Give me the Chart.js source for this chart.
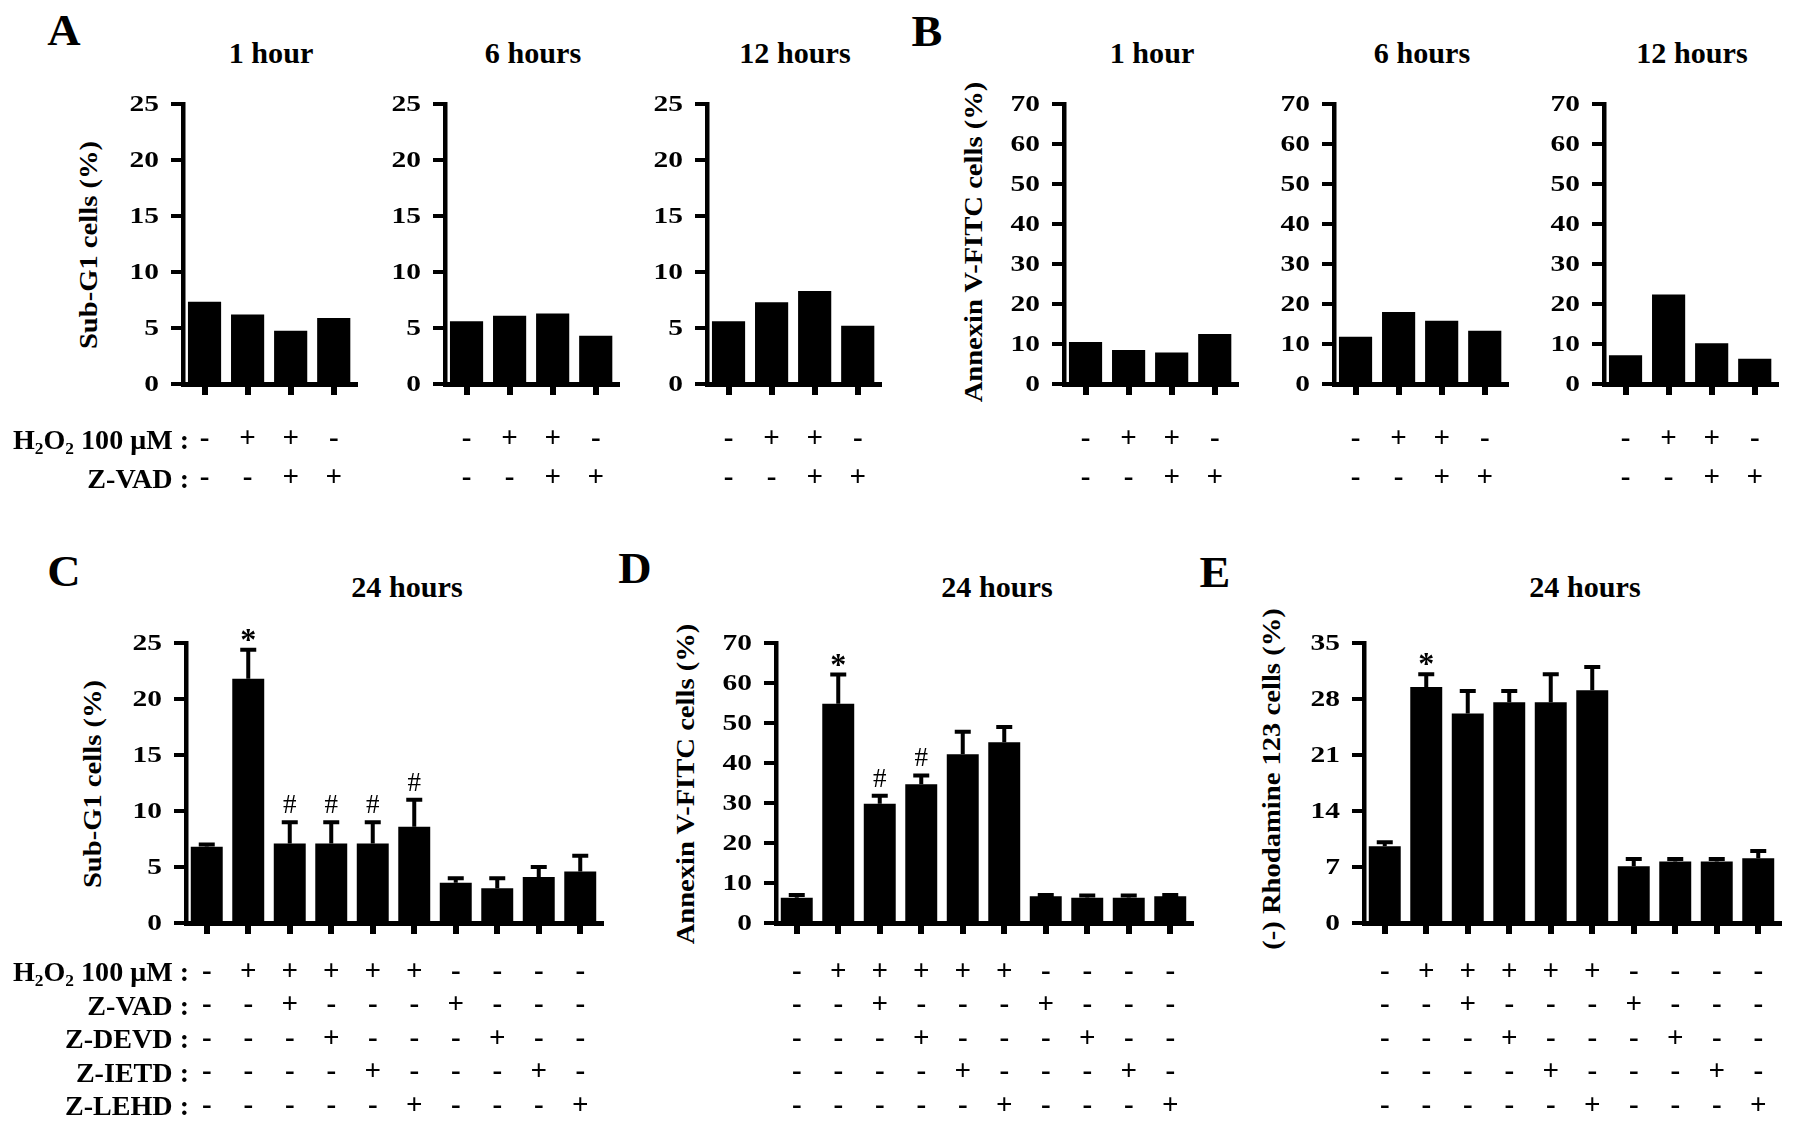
<!DOCTYPE html>
<html>
<head>
<meta charset="utf-8">
<script src="https://cdn.jsdelivr.net/npm/chart.js@4.4.1/dist/chart.umd.min.js"></script>
<style>
  body { margin: 0; width: 1795px; height: 1126px; position: relative; overflow: hidden; background: #fff; }
  canvas { position: absolute; }
  .t { position: absolute; white-space: nowrap; line-height: 1; font-family: "Liberation Serif", "Times New Roman", serif; font-weight: bold; color: #000; }
  .t .s { font-size: 0.62em; position: relative; top: 0.3em; }
</style>
</head>
<body>
<script>
// time points
const hoursEarly = ['1 hour', '6 hours', '12 hours'];
const hoursLate = '24 hours';

// A - Sub-G1 cells (%), single values
const subG1_1h  = [7.35, 6.2, 4.75, 5.9];
const subG1_6h  = [5.6, 6.1, 6.3, 4.3];
const subG1_12h = [5.6, 7.3, 8.3, 5.2];

// B - Annexin V-FITC cells (%)
const annexin_1h  = [10.5, 8.5, 7.9, 12.5];
const annexin_6h  = [11.8, 18.0, 15.8, 13.3];
const annexin_12h = [7.2, 22.4, 10.2, 6.3];

// treatments under A and B
const h2o2Early = ['-', '+', '+', '-'];
const zvadEarly = ['-', '-', '+', '+'];

// C, D, E - 24 hours, mean and SD
const subG1_24h     = [6.8, 21.8, 7.1, 7.1, 7.1, 8.6, 3.6, 3.1, 4.1, 4.6];
const subG1_24hSD   = [0.2, 2.6, 1.9, 1.9, 1.9, 2.4, 0.4, 0.9, 0.9, 1.4];
const annexin_24h   = [6.3, 54.8, 29.8, 34.7, 42.2, 45.2, 6.7, 6.3, 6.3, 6.7];
const annexin_24hSD = [0.7, 7.3, 2.0, 2.2, 5.6, 3.8, 0.3, 0.6, 0.6, 0.3];
const rhod_24h      = [9.6, 29.5, 26.2, 27.6, 27.6, 29.1, 7.1, 7.7, 7.7, 8.1];
const rhod_24hSD    = [0.5, 1.6, 2.8, 1.4, 3.5, 2.9, 0.9, 0.3, 0.3, 0.9];

// significance marks
const marksC = ['', '*', '#', '#', '#', '#', '', '', '', ''];
const marksD = ['', '*', '#', '#', '', '', '', '', '', ''];
const marksE = ['', '*', '', '', '', '', '', '', '', ''];

// treatments under C, D, E
const h2o2Late  = ['-', '+', '+', '+', '+', '+', '-', '-', '-', '-'];
const zvadLate  = ['-', '-', '+', '-', '-', '-', '+', '-', '-', '-'];
const zdevdLate = ['-', '-', '-', '+', '-', '-', '-', '+', '-', '-'];
const zietdLate = ['-', '-', '-', '-', '+', '-', '-', '-', '+', '-'];
const zlehdLate = ['-', '-', '-', '-', '-', '+', '-', '-', '-', '+'];

const rowNamesEarly = ['H<span class="s">2</span>O<span class="s">2</span> 100 μM :', 'Z-VAD :'];
const rowNamesLate = ['H<span class="s">2</span>O<span class="s">2</span> 100 μM :', 'Z-VAD :', 'Z-DEVD :', 'Z-IETD :', 'Z-LEHD :'];

// y axis ticks
const ticksSubG1 = [0, 5, 10, 15, 20, 25];
const ticksAnnexin = [0, 10, 20, 30, 40, 50, 60, 70];
const ticksRhod = [0, 7, 14, 21, 28, 35];

const SERIF = '"Liberation Serif", "Times New Roman", serif';
const Y_W = 70, PAD_T = 20, PAD_R = 12;

const colsEarly = h2o2Early.map((v, i) => [v, zvadEarly[i]]);
const colsLate = h2o2Late.map((v, i) => [v, zvadLate[i], zdevdLate[i], zietdLate[i], zlehdLate[i]]);

// error bars, * / # marks and the (wide) y tick numbers
const extras = {
  id: 'extras',
  afterDatasetsDraw(chart, args, opts) {
    const ctx = chart.ctx, ys = chart.scales.y;
    const bars = chart.getDatasetMeta(0).data;
    const vals = chart.data.datasets[0].data;
    ctx.save();
    ctx.strokeStyle = '#000';
    ctx.fillStyle = '#000';
    ctx.lineWidth = 4;
    if (opts.sd) {
      bars.forEach((b, i) => {
        const top = ys.getPixelForValue(vals[i] + opts.sd[i]);
        ctx.beginPath();
        ctx.moveTo(b.x, b.y);
        ctx.lineTo(b.x, top);
        ctx.moveTo(b.x - 8, top);
        ctx.lineTo(b.x + 8, top);
        ctx.stroke();
        const m = opts.marks && opts.marks[i];
        if (m) {
          ctx.font = m === '*' ? 'bold 32px ' + SERIF : '27px ' + SERIF;
          ctx.textAlign = 'center';
          ctx.textBaseline = 'alphabetic';
          ctx.fillText(m, b.x, top - (m === '*' ? 0 : 9));
        }
      });
    }
    ctx.font = 'bold 23px ' + SERIF;
    ctx.textAlign = 'right';
    ctx.textBaseline = 'middle';
    opts.yTicks.forEach(v => {
      ctx.save();
      ctx.translate(ys.right - 24, ys.getPixelForValue(v) + 1);
      ctx.scale(1.28, 1);
      ctx.fillText(String(v), 0, 0);
      ctx.restore();
    });
    ctx.restore();
  }
};

function barChart(o) {
  const cv = document.createElement('canvas');
  cv.width = Y_W + o.plotW + PAD_R;
  cv.height = PAD_T + o.plotH + o.xH;
  cv.style.left = (o.axisX - Y_W) + 'px';
  cv.style.top = (o.plotTop - PAD_T) + 'px';
  document.body.appendChild(cv);
  new Chart(cv, {
    type: 'bar',
    data: {
      labels: o.labels,
      datasets: [{ data: o.values, backgroundColor: '#000', borderWidth: 0, categoryPercentage: 1, barPercentage: 0.77 }]
    },
    options: {
      responsive: false,
      animation: false,
      events: [],
      layout: { padding: { top: PAD_T, right: PAD_R, left: 0, bottom: 0 } },
      plugins: {
        legend: { display: false },
        tooltip: { enabled: false },
        extras: { sd: o.sd, marks: o.marks, yTicks: o.yTicks }
      },
      scales: {
        x: {
          offset: true,
          grid: { offset: false, drawOnChartArea: false, tickLength: 11, lineWidth: 6, color: '#000' },
          border: { width: 5, color: '#000' },
          ticks: {
            autoSkip: false, maxRotation: 0, minRotation: 0, padding: o.pad, color: '#000',
            font: { family: SERIF, size: 29, weight: 'bold', lineHeight: o.lh + 'px' }
          },
          afterFit: s => { s.height = o.xH; }
        },
        y: {
          min: 0,
          max: o.yTicks[o.yTicks.length - 1],
          afterBuildTicks: s => { s.ticks = o.yTicks.map(v => ({ value: v })); },
          ticks: { display: false },
          grid: { drawOnChartArea: false, tickLength: 12, lineWidth: 4, color: '#000' },
          border: { width: 4.5, color: '#000' },
          afterFit: s => { s.width = Y_W; }
        }
      }
    },
    plugins: [extras]
  });
}

function txt(html, x, y, o = {}) {
  const d = document.createElement('div');
  d.className = 't';
  d.innerHTML = html;
  d.style.left = x + 'px';
  d.style.top = y + 'px';
  d.style.fontSize = (o.size || 24) + 'px';
  const right = o.align === 'right';
  d.style.transformOrigin = right ? '100% 50%' : '50% 50%';
  d.style.transform = `translate(${right ? '-100%' : '-50%'},-50%) rotate(${o.rot || 0}deg) scaleX(${o.sx || 1})`;
  document.body.appendChild(d);
}

// ---- top row: A and B ----
const early = { plotW: 174, plotTop: 104, plotH: 280, xH: 130, lh: 38.5, pad: 25.5 };
const earlyRow0 = 440;

const panelA = [subG1_1h, subG1_6h, subG1_12h];
const panelB = [annexin_1h, annexin_6h, annexin_12h];
[183, 445, 707].forEach((ax, k) => {
  barChart({ ...early, axisX: ax, labels: colsEarly, values: panelA[k], yTicks: ticksSubG1 });
  txt(hoursEarly[k], ax + early.plotW / 2 + 1, 53, { size: 29, sx: 1.04 });
});
[1064, 1334, 1604].forEach((ax, k) => {
  barChart({ ...early, axisX: ax, labels: colsEarly, values: panelB[k], yTicks: ticksAnnexin });
  txt(hoursEarly[k], ax + early.plotW / 2 + 1, 53, { size: 29, sx: 1.04 });
});
txt('A', 64, 31, { size: 44, sx: 1.05 });
txt('B', 927, 32, { size: 44, sx: 1.05 });
txt('Sub-G1 cells (%)', 183 - 94, 245, { size: 26, rot: -90, sx: 1.1 });
txt('Annexin V-FITC cells (%)', 1064 - 90, 242, { size: 26, rot: -90, sx: 1.1 });
rowNamesEarly.forEach((n, i) => txt(n, 189, earlyRow0 + i * early.lh, { align: 'right', size: 27, sx: 1.04 }));

// ---- bottom row: C, D, E ----
const late = { plotW: 415, plotTop: 643, plotH: 280, xH: 203, lh: 33.5, pad: 21.5 };
const lateRow0 = 972;

barChart({ ...late, axisX: 186, labels: colsLate, values: subG1_24h, sd: subG1_24hSD, marks: marksC, yTicks: ticksSubG1 });
barChart({ ...late, axisX: 776, labels: colsLate, values: annexin_24h, sd: annexin_24hSD, marks: marksD, yTicks: ticksAnnexin });
barChart({ ...late, axisX: 1364, labels: colsLate, values: rhod_24h, sd: rhod_24hSD, marks: marksE, yTicks: ticksRhod });

[186, 776, 1364].forEach(ax => txt(hoursLate, ax + late.plotW / 2 + 13, 587, { size: 29, sx: 1.04 }));
txt('C', 64, 572, { size: 44, sx: 1.05 });
txt('D', 635, 569, { size: 44, sx: 1.05 });
txt('E', 1215, 573, { size: 44, sx: 1.05 });
txt('Sub-G1 cells (%)', 186 - 93, 784, { size: 26, rot: -90, sx: 1.1 });
txt('Annexin V-FITC cells (%)', 776 - 90, 784, { size: 26, rot: -90, sx: 1.1 });
txt('(-) Rhodamine 123 cells (%)', 1364 - 92, 779, { size: 26, rot: -90, sx: 1.1 });
rowNamesLate.forEach((n, i) => txt(n, 189, lateRow0 + i * late.lh, { align: 'right', size: 27, sx: 1.04 }));
</script>
</body>
</html>
